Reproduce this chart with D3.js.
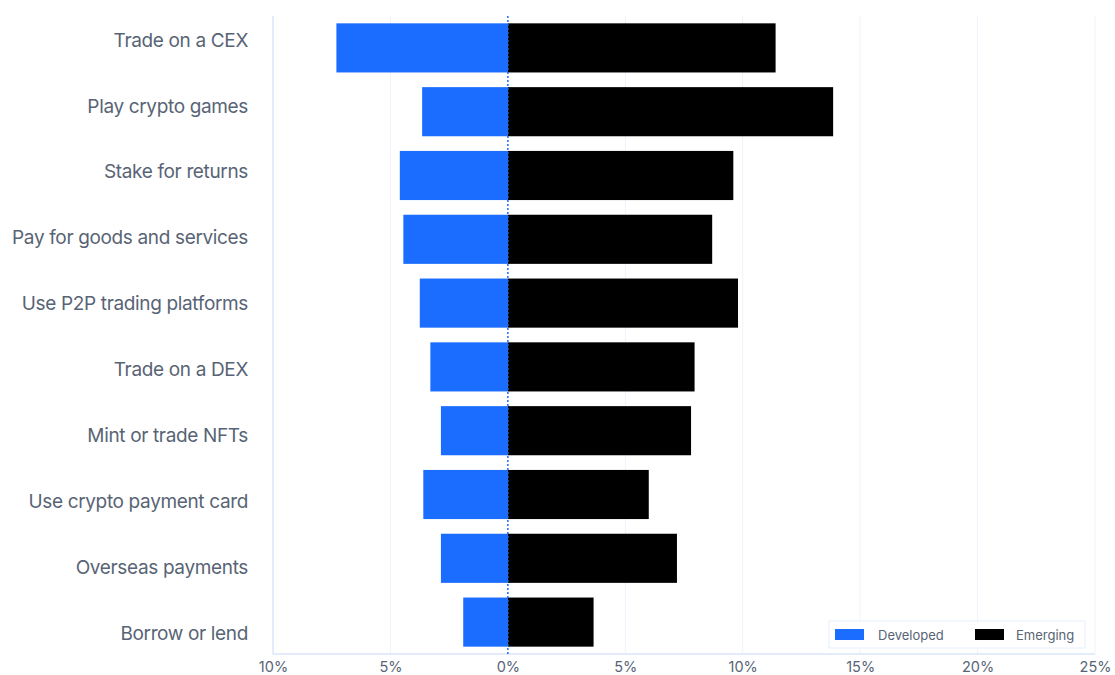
<!DOCTYPE html>
<html>
<head>
<meta charset="utf-8">
<script src="https://cdn.jsdelivr.net/npm/d3@7"></script>
<style>
  html, body { margin: 0; padding: 0; background: #fff; }
  svg { display: block; font-family: Inter, "Noto Sans", sans-serif; }
</style>
</head>
<body>
<svg id="chart" width="1115" height="675"></svg>
<script>
// Share of respondents using crypto for each activity, by market type (%)
const categories = [
  "Trade on a CEX",
  "Play crypto games",
  "Stake for returns",
  "Pay for goods and services",
  "Use P2P trading platforms",
  "Trade on a DEX",
  "Mint or trade NFTs",
  "Use crypto payment card",
  "Overseas payments",
  "Borrow or lend"
];
const developed = [7.3, 3.65, 4.6, 4.45, 3.75, 3.3, 2.85, 3.6, 2.85, 1.9];
const emerging  = [11.4, 13.85, 9.6, 8.7, 9.8, 7.95, 7.8, 6.0, 7.2, 3.65];
const xTicks = [-10, -5, 0, 5, 10, 15, 20, 25];
const tickLabels = ["10%", "5%", "0%", "5%", "10%", "15%", "20%", "25%"];
const seriesNames = ["Developed", "Emerging"];
const seriesColors = ["#1a6dff", "#000000"];

const svg = d3.select("#chart");
const margin = { top: 16, right: 20, bottom: 21, left: 273 };
const width = 1115, height = 675;
const innerW = 1095 - margin.left;
const innerH = height - margin.top - margin.bottom;

const x = d3.scaleLinear().domain([-10, 25]).range([margin.left, margin.left + innerW]);
const y = d3.scaleBand().domain(categories).range([margin.top, margin.top + innerH]).paddingInner(0.23).paddingOuter(0.115);
// category labels sit on their own, slightly wider spacing
const yLabel = d3.scalePoint().domain(categories).range([40, 633]);

// vertical gridlines
svg.append("g").selectAll("line")
  .data(xTicks.filter(t => t !== 0 && t !== -10))
  .join("line")
  .attr("x1", d => x(d)).attr("x2", d => x(d))
  .attr("y1", margin.top).attr("y2", margin.top + innerH)
  .attr("stroke", "#eef3fd").attr("stroke-width", 1);

// left and bottom frame
svg.append("line")
  .attr("x1", x(-10)).attr("x2", x(-10))
  .attr("y1", margin.top).attr("y2", margin.top + innerH)
  .attr("stroke", "#dbe6fb").attr("stroke-width", 1.5);
svg.append("line")
  .attr("x1", x(-10)).attr("x2", x(25))
  .attr("y1", margin.top + innerH).attr("y2", margin.top + innerH)
  .attr("stroke", "#dbe6fb").attr("stroke-width", 1.5);

// bars
const rows = categories.map((c, i) => ({ c, dev: developed[i], em: emerging[i] }));
svg.append("g").selectAll("rect")
  .data(rows).join("rect")
  .attr("x", d => x(-d.dev)).attr("y", d => y(d.c))
  .attr("width", d => x(0) - x(-d.dev)).attr("height", y.bandwidth())
  .attr("fill", seriesColors[0]);
svg.append("g").selectAll("rect")
  .data(rows).join("rect")
  .attr("x", x(0)).attr("y", d => y(d.c))
  .attr("width", d => x(d.em) - x(0)).attr("height", y.bandwidth())
  .attr("fill", seriesColors[1]);

// zero line
svg.append("line")
  .attr("x1", x(0)).attr("x2", x(0))
  .attr("y1", margin.top).attr("y2", margin.top + innerH)
  .attr("stroke", "#1a6dff").attr("stroke-width", 1.5)
  .attr("stroke-dasharray", "2,2");

// category labels
svg.append("g").selectAll("text")
  .data(categories).join("text")
  .attr("x", 248).attr("y", d => yLabel(d))
  .attr("dy", "0.35em").attr("text-anchor", "end")
  .attr("font-size", 19).attr("fill", "#586475")
  .attr("letter-spacing", "-0.35")
  .text(d => d);

// x axis tick labels
const xAxis = d3.axisBottom(x).tickValues(xTicks)
  .tickFormat((d, i) => tickLabels[i]).tickSize(0).tickPadding(8);
const gx = svg.append("g").attr("transform", `translate(0,${margin.top + innerH})`).call(xAxis);
gx.select(".domain").remove();
gx.selectAll("text").attr("font-size", 14.5).attr("fill", "#586475")
  .attr("font-family", "Inter, 'Noto Sans', sans-serif");

// legend
const lg = svg.append("g").attr("transform", "translate(829,621)");
lg.append("rect").attr("width", 256).attr("height", 27)
  .attr("fill", "#fff").attr("stroke", "#e6eefc").attr("stroke-width", 1);
const items = [ { x: 6, tx: 49 }, { x: 146, tx: 187 } ];
seriesNames.forEach((n, i) => {
  lg.append("rect").attr("x", items[i].x).attr("y", 8).attr("width", 29).attr("height", 11)
    .attr("fill", seriesColors[i]);
  lg.append("text").attr("x", items[i].tx).attr("y", 14).attr("dy", "0.35em")
    .attr("font-size", 13).attr("fill", "#586475").text(n);
});
</script>
</body>
</html>
